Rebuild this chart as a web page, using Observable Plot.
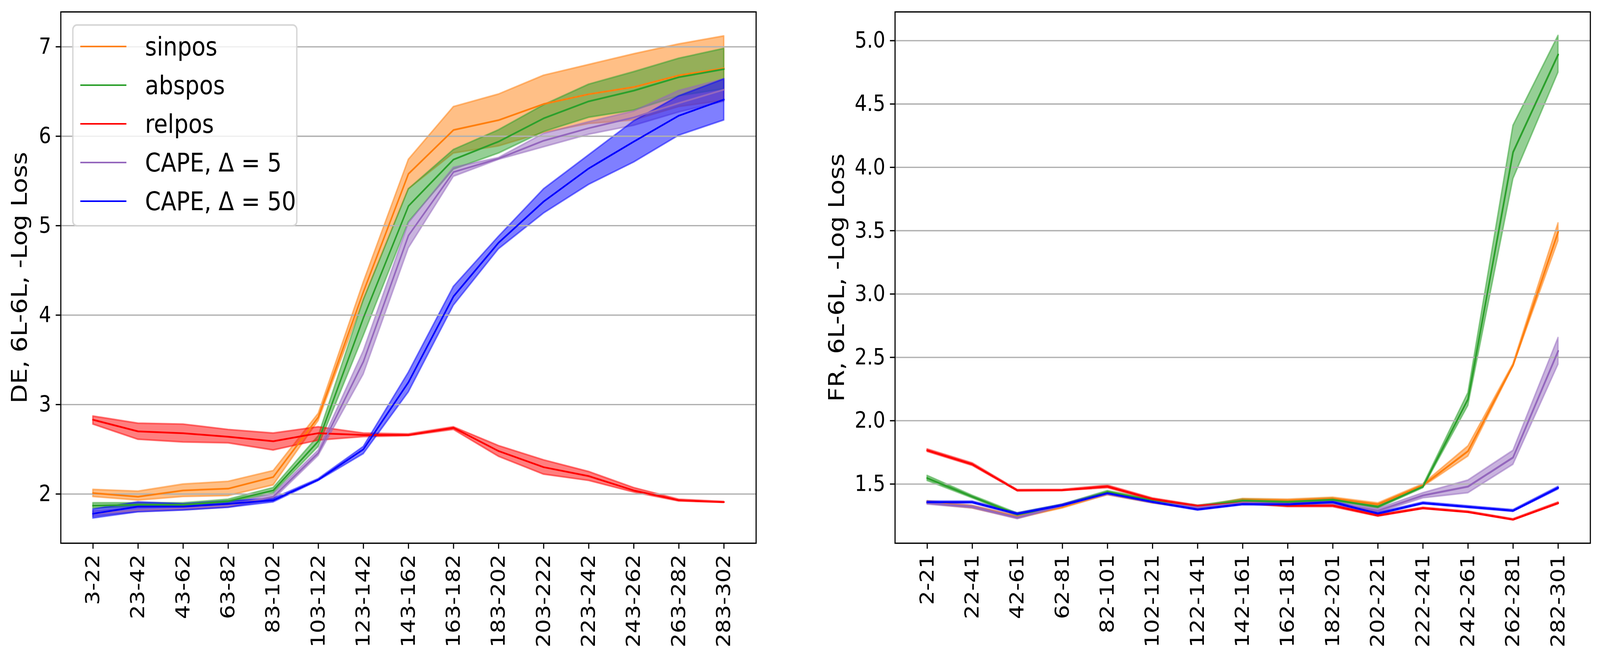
<!DOCTYPE html>
<html>
<head>
<meta charset="utf-8">
<script src="https://cdn.jsdelivr.net/npm/d3@7"></script>
<script src="https://cdn.jsdelivr.net/npm/@observablehq/plot@0.6"></script>
<style>
  html, body { margin: 0; padding: 0; background: #fff; overflow: hidden; }
  #wrap { position: absolute; left: 0; top: 0; width: 4722px; height: 1692px; background: #fff; font-family: "DejaVu Sans", sans-serif; overflow: hidden; transform-origin: 0 0; }
  #left, #right { position: absolute; top: 0; }
  #left { left: 0; }
  #right { left: 2300px; }
  #legend { position: absolute; left: 213px; top: 62px; width: 665px; height: 518px; box-sizing: border-box;
    border: 4px solid rgba(204,204,204,0.8); border-radius: 14px; background: rgba(255,255,255,0.8); }
  .row { position: absolute; left: 0; height: 0; }
  .row .sw { position: absolute; left: 20px; width: 136px; height: 4.2px; top: -2.1px; }
  .row .lb { position: absolute; left: 211px; top: -40px; line-height: 80px; font-size: 66.7px; white-space: nowrap; color: #000; }
</style>
</head>
<body>
<div id="wrap">
  <div id="left"></div>
  <div id="right"></div>
  <div id="legend"></div>
</div>
<script>
// ---------- data ----------
const seriesNames = ["sinpos", "abspos", "relpos", "CAPE, Δ = 5", "CAPE, Δ = 50"];
const seriesColors = ["#ff7f0e", "#2ca02c", "#ff0000", "#9467bd", "#0000ff"];

// DE panel
const deCategories = ["3-22","23-42","43-62","63-82","83-102","103-122","123-142","143-162","163-182","183-202","203-222","223-242","243-262","263-282","283-302"];
const deTicks = [2, 3, 4, 5, 6, 7];
// each entry: [low, mean, high]
const deSinpos = [[1.97,2.01,2.05],[1.93,1.97,2.03],[1.97,2.04,2.11],[1.98,2.06,2.14],[2.10,2.19,2.26],[2.82,2.86,2.90],[4.17,4.26,4.37],[5.41,5.58,5.74],[5.81,6.07,6.33],[5.89,6.18,6.47],[6.04,6.36,6.68],[6.14,6.47,6.80],[6.18,6.55,6.92],[6.33,6.68,7.03],[6.40,6.76,7.12]];
const deAbspos = [[1.84,1.87,1.90],[1.86,1.88,1.90],[1.86,1.88,1.90],[1.90,1.92,1.94],[2.01,2.04,2.07],[2.53,2.59,2.65],[3.77,3.97,4.17],[5.04,5.22,5.41],[5.63,5.74,5.85],[5.81,5.94,6.07],[6.05,6.20,6.35],[6.21,6.39,6.58],[6.29,6.51,6.72],[6.45,6.66,6.87],[6.53,6.75,6.98]];
const deRelpos = [[2.78,2.83,2.87],[2.61,2.70,2.79],[2.58,2.68,2.78],[2.57,2.64,2.72],[2.49,2.59,2.68],[2.60,2.68,2.75],[2.64,2.66,2.68],[2.65,2.66,2.67],[2.72,2.74,2.75],[2.42,2.48,2.54],[2.22,2.30,2.38],[2.15,2.20,2.25],[2.02,2.04,2.07],[1.92,1.93,1.94],[1.905,1.91,1.915]];
const deCape5 = [[1.75,1.78,1.81],[1.80,1.82,1.85],[1.82,1.84,1.86],[1.85,1.87,1.89],[1.94,1.97,2.00],[2.43,2.46,2.49],[3.34,3.48,3.60],[4.75,4.89,5.03],[5.55,5.60,5.65],[5.74,5.75,5.76],[5.88,5.95,6.03],[6.02,6.09,6.16],[6.12,6.21,6.28],[6.27,6.37,6.51],[6.39,6.52,6.64]];
const deCape50 = [[1.73,1.78,1.83],[1.80,1.86,1.91],[1.82,1.86,1.89],[1.85,1.89,1.92],[1.91,1.93,1.95],[2.15,2.16,2.17],[2.45,2.50,2.53],[3.14,3.25,3.36],[4.11,4.21,4.32],[4.74,4.81,4.88],[5.14,5.27,5.41],[5.46,5.64,5.79],[5.71,5.94,6.17],[6.01,6.23,6.45],[6.18,6.41,6.64]];

// FR panel
const frCategories = ["2-21","22-41","42-61","62-81","82-101","102-121","122-141","142-161","162-181","182-201","202-221","222-241","242-261","262-281","282-301"];
const frTicks = [1.5, 2.0, 2.5, 3.0, 3.5, 4.0, 4.5, 5.0];
const frSinpos = [[1.347,1.357,1.367],[1.31,1.32,1.33],[1.23,1.24,1.25],[1.31,1.32,1.33],[1.415,1.425,1.435],[1.35,1.36,1.37],[1.30,1.31,1.32],[1.365,1.375,1.385],[1.36,1.37,1.38],[1.375,1.385,1.395],[1.33,1.34,1.35],[1.48,1.49,1.50],[1.72,1.76,1.80],[2.43,2.44,2.45],[3.42,3.49,3.56]];
const frAbspos = [[1.527,1.547,1.567],[1.39,1.40,1.41],[1.25,1.26,1.27],[1.32,1.33,1.34],[1.427,1.437,1.447],[1.36,1.37,1.38],[1.31,1.32,1.33],[1.36,1.37,1.38],[1.35,1.36,1.37],[1.367,1.377,1.387],[1.31,1.32,1.33],[1.47,1.48,1.49],[2.12,2.17,2.22],[3.91,4.12,4.33],[4.75,4.89,5.04]];
const frRelpos = [[1.756,1.766,1.776],[1.646,1.656,1.666],[1.445,1.45,1.455],[1.447,1.452,1.457],[1.47,1.48,1.49],[1.375,1.382,1.389],[1.32,1.326,1.332],[1.345,1.351,1.357],[1.32,1.33,1.34],[1.32,1.33,1.34],[1.245,1.252,1.259],[1.305,1.31,1.315],[1.275,1.28,1.285],[1.215,1.22,1.225],[1.343,1.35,1.357]];
const frCape5 = [[1.34,1.35,1.36],[1.31,1.32,1.33],[1.225,1.235,1.245],[1.32,1.33,1.34],[1.415,1.425,1.435],[1.35,1.36,1.37],[1.305,1.315,1.325],[1.34,1.35,1.36],[1.33,1.34,1.35],[1.34,1.35,1.36],[1.275,1.29,1.305],[1.39,1.41,1.43],[1.43,1.48,1.53],[1.655,1.71,1.765],[2.445,2.55,2.655]];
const frCape50 = [[1.35,1.357,1.364],[1.35,1.357,1.364],[1.258,1.265,1.272],[1.326,1.333,1.34],[1.421,1.428,1.435],[1.353,1.36,1.367],[1.293,1.30,1.307],[1.335,1.342,1.349],[1.332,1.339,1.346],[1.35,1.357,1.364],[1.26,1.267,1.274],[1.343,1.35,1.357],[1.313,1.32,1.327],[1.283,1.29,1.297],[1.46,1.47,1.48]];

// ---------- drawing ----------
function panel(cfg) {
  const series = cfg.values.map((vals, si) => ({
    name: seriesNames[si],
    color: seriesColors[si],
    rows: vals.map(([lo, m, hi], i) => ({cat: cfg.cats[i], lo, m, hi}))
  }));
  const marks = [];
  for (const s of series) {
    marks.push(Plot.areaY(s.rows, {x: "cat", y1: "lo", y2: "hi", fill: s.color, fillOpacity: 0.5,
      stroke: s.color, strokeOpacity: 0.5, strokeWidth: 4.2, curve: "linear"}));
  }
  marks.push(Plot.gridY(cfg.ticks, {stroke: "#b0b0b0", strokeOpacity: 1, strokeWidth: 3.3}));
  for (const s of series) {
    marks.push(Plot.lineY(s.rows, {x: "cat", y: "m", stroke: s.color, strokeWidth: cfg.lw, curve: "linear"}));
  }
  marks.push(Plot.frame({stroke: "black", strokeWidth: 3.3}));
  marks.push(Plot.axisY(cfg.ticks, {tickSize: 14.6, tickPadding: 14, tickFormat: cfg.fmt, fontSize: 57,
    label: null, strokeWidth: 3.3}));
  marks.push(Plot.axisX({tickRotate: -90, tickSize: 14.6, tickPadding: 14, fontSize: 57, label: null, strokeWidth: 3.3}));
  marks.push(Plot.text([cfg.ylabel], {frameAnchor: "left", textAnchor: "middle", lineAnchor: "middle",
    rotate: -90, dx: cfg.labelDx, fontSize: 64, fill: "black"}));
  return Plot.plot({
    width: cfg.width, height: 1692,
    marginTop: 30, marginBottom: 302, marginLeft: cfg.ml, marginRight: cfg.mr,
    x: {type: "point", domain: cfg.cats, padding: 0.7},
    y: {domain: cfg.domain},
    style: {fontFamily: "DejaVu Sans", background: "white", color: "black", overflow: "visible"},
    marks
  });
}

document.getElementById("left").appendChild(panel({
  cats: deCategories, values: [deSinpos, deAbspos, deRelpos, deCape5, deCape50],
  ticks: deTicks, fmt: d => String(d), domain: [1.45, 7.39],
  width: 2300, ml: 179, mr: 69, lw: 4.5, ylabel: "DE, 6L-6L, -Log Loss", labelDx: -122
}));
document.getElementById("right").appendChild(panel({
  cats: frCategories, values: [frSinpos, frAbspos, frRelpos, frCape5, frCape50],
  ticks: frTicks, fmt: d3.format(".1f"), domain: [1.033, 5.227],
  width: 2422, ml: 341, mr: 29, lw: 5, ylabel: "FR, 6L-6L, -Log Loss", labelDx: -172
}));

// legend
const legend = document.getElementById("legend");
seriesNames.forEach((name, i) => {
  const row = document.createElement("div");
  row.className = "row";
  row.style.top = (53 + i * 99) + "px";
  const sw = document.createElement("div");
  sw.className = "sw";
  sw.style.background = seriesColors[i];
  const lb = document.createElement("div");
  lb.className = "lb";
  lb.textContent = name;
  row.appendChild(sw);
  row.appendChild(lb);
  legend.appendChild(row);
});

// fit the 4722x1692 design into the actual viewport
function fit() {
  const sx = (window.innerWidth || 4722) / 4722;
  const sy = (window.innerHeight || 1692) / 1692;
  document.getElementById("wrap").style.transform = `scale(${sx}, ${sy})`;
}
fit();
window.addEventListener("resize", fit);
</script>
</body>
</html>
